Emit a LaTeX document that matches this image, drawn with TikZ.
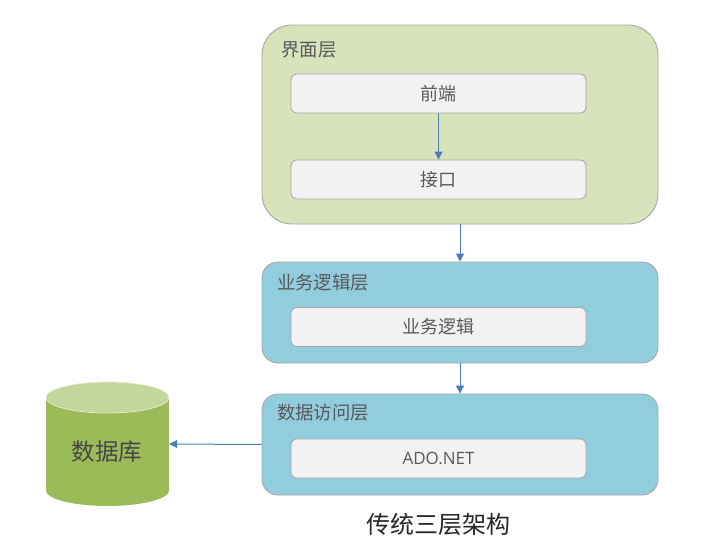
\documentclass[tikz,border=0pt]{standalone}
\usepackage{fontspec}
\setmainfont{Noto Sans CJK SC}
\newfontfamily\latinfont{Open Sans}
\usetikzlibrary{arrows.meta}
\definecolor{greenlayer}{HTML}{D8E3BC}
\definecolor{bluelayer}{HTML}{92CDDD}
\definecolor{boxfill}{HTML}{F2F2F2}
\definecolor{edgegray}{HTML}{A6A6A6}
\definecolor{arrowblue}{HTML}{4A7EBB}
\definecolor{textgray}{HTML}{595959}
\definecolor{dbbody}{HTML}{9BBB59}
\definecolor{dbtop}{HTML}{C3D69B}
\tikzset{
  layerbox/.style={draw=edgegray,line width=0.9pt,inner sep=0pt,minimum width=396pt},
  innerbox/.style={draw=edgegray,line width=0.8pt,fill=boxfill,rounded corners=6pt,inner sep=0pt,
    minimum width=295pt,minimum height=39pt,font=\fontsize{18}{20}\selectfont,text=textgray},
  layerlabel/.style={font=\fontsize{18.4}{20}\selectfont,text=textgray,inner sep=0pt},
  link/.style={draw=arrowblue,line width=1pt,-{Triangle[length=8pt,width=8pt]}}
}
\begin{document}
\begin{tikzpicture}[x=1pt,y=-1pt]
\useasboundingbox (0,0) rectangle (726,549);
\node[layerbox,fill=greenlayer,rounded corners=30pt,minimum height=199pt] (ui) at (460,124.5) {};
\node[layerbox,fill=bluelayer,rounded corners=16pt,minimum height=101pt] (biz) at (460,312.5) {};
\node[layerbox,fill=bluelayer,rounded corners=16pt,minimum height=101pt] (dal) at (460,444.5) {};
\node[layerlabel] (uilabel) at (309,50) {界面层};
\node[layerlabel] (bizlabel) at (323,283) {业务逻辑层};
\node[layerlabel] (dallabel) at (323,413) {数据访问层};
\node[innerbox] (front) at (438.5,93.5) {前端};
\node[innerbox] (api) at (438.5,179.5) {接口};
\node[innerbox] (logic) at (438.5,327) {业务逻辑};
\node[innerbox] (ado) at (438.5,458.5) {\latinfont\fontsize{17}{20}\selectfont ADO.NET};
% database cylinder
\fill[dbbody] (46,397.5) rectangle (169,490.5);
\fill[dbbody] (107.5,490.5) ellipse [x radius=61.5pt,y radius=15.5pt];
\filldraw[fill=dbtop,draw=white!60!dbtop,line width=0.7pt] (107.5,397.5) ellipse [x radius=61.5pt,y radius=15.5pt];
\node[inner sep=0pt,minimum width=123pt,minimum height=124pt] (db) at (107.5,444) {};
\node[inner sep=0pt,font=\fontsize{23.5}{26}\selectfont,text=textgray!80!black] (dblabel) at (107,452) {数据库};
\node[inner sep=0pt,font=\fontsize{24}{26}\selectfont,text=black!85] (title) at (438.5,524) {传统三层架构};
\draw[link] (front.south) -- (api.north);
\draw[link] (ui.south) -- (biz.north);
\draw[link] (biz.south) -- (dal.north);
\draw[link] (dal.west) -- (db.east);
\end{tikzpicture}
\end{document}
